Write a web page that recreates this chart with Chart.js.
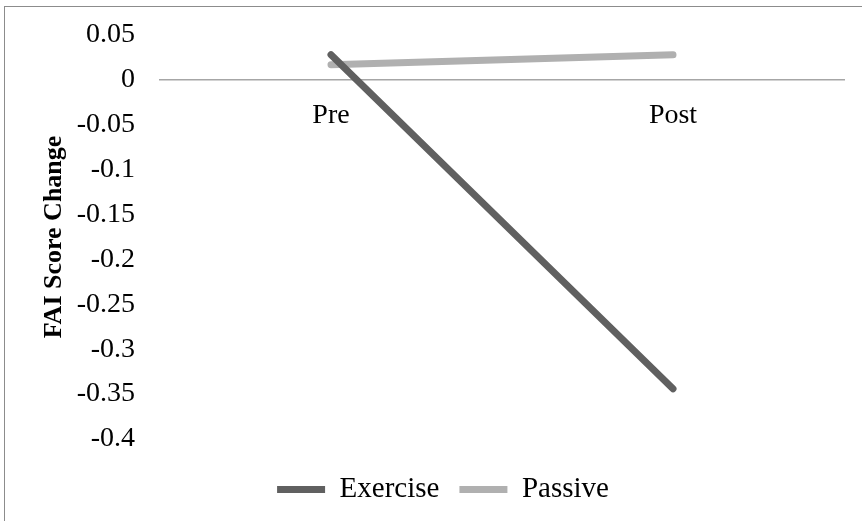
<!DOCTYPE html>
<html>
<head>
<meta charset="utf-8">
<script src="https://cdn.jsdelivr.net/npm/chart.js@4/dist/chart.umd.min.js"></script>
<style>
  body { margin: 0; background: #fff; }
  #wrap { position: relative; width: 862px; height: 521px; }
  #frame { position: absolute; left: 4px; top: 6px; right: -10px; bottom: -10px;
           border-left: 1px solid #8c8c8c; border-top: 1px solid #8c8c8c; }
  canvas { position: absolute; left: 0; top: 0; }
</style>
</head>
<body>
<div id="wrap">
  <div id="frame"></div>
  <canvas id="faiChart" width="862" height="521"></canvas>
</div>
<script>
const categories = ['Pre', 'Post'];
const exercise = [0.028, -0.344];
const passive = [0.017, 0.028];
const yTicks = [0.05, 0, -0.05, -0.1, -0.15, -0.2, -0.25, -0.3, -0.35, -0.4];

const serif = '"Liberation Serif", "Times New Roman", serif';

const ctx = document.getElementById('faiChart').getContext('2d');
const faiChart = new Chart(ctx, {
    type: 'line',
    data: {
        labels: categories,
        datasets: [{
            label: 'Exercise',
            data: exercise,
            borderColor: '#606060',
            backgroundColor: '#606060',
            borderWidth: 7,
            borderCapStyle: 'round',
            pointRadius: 0,
            pointStyle: 'line',
            tension: 0
        }, {
            label: 'Passive',
            data: passive,
            borderColor: '#b0b0b0',
            backgroundColor: '#b0b0b0',
            borderWidth: 7,
            borderCapStyle: 'round',
            pointRadius: 0,
            pointStyle: 'line',
            tension: 0
        }]
    },
    options: {
        responsive: false,
        animation: false,
        layout: { padding: { top: 35, right: 18, bottom: 7, left: 42 } },
        plugins: {
            tooltip: { enabled: false },
            legend: {
                position: 'bottom',
                labels: {
                    color: '#000',
                    font: { family: serif, size: 29 },
                    usePointStyle: true,
                    pointStyleWidth: 48,
                    boxHeight: 7,
                    padding: 20
                }
            }
        },
        scales: {
            x: {
                position: { y: 0 },
                offset: true,
                grid: { display: false, drawTicks: false },
                border: { display: true, color: '#a6a6a6', width: 1.5 },
                ticks: { color: '#000', font: { family: serif, size: 28 }, padding: 19 }
            },
            // empty bottom axis, only keeps the gap above the legend
            gap: {
                type: 'category',
                position: 'bottom',
                grid: { display: false, drawTicks: false },
                border: { display: false },
                ticks: { display: false },
                afterFit: scale => { scale.height = 16; }
            },
            y: {
                min: -0.4,
                max: 0.05,
                grid: { display: false, drawTicks: false },
                border: { display: false },
                afterFit: scale => {
                    scale.width = 118;
                    scale.paddingTop = 0;
                    scale.paddingBottom = 0;
                },
                afterBuildTicks: scale => { scale.ticks = yTicks.map(v => ({ value: v })); },
                ticks: {
                    color: '#000',
                    font: { family: serif, size: 28 },
                    padding: 25,
                    callback: value => String(value)
                },
                title: {
                    display: true,
                    text: 'FAI Score Change',
                    color: '#000',
                    font: { family: serif, size: 26, weight: 'bold' },
                    padding: { top: -3, bottom: 0 }
                }
            }
        }
    }
});
</script>
</body>
</html>
